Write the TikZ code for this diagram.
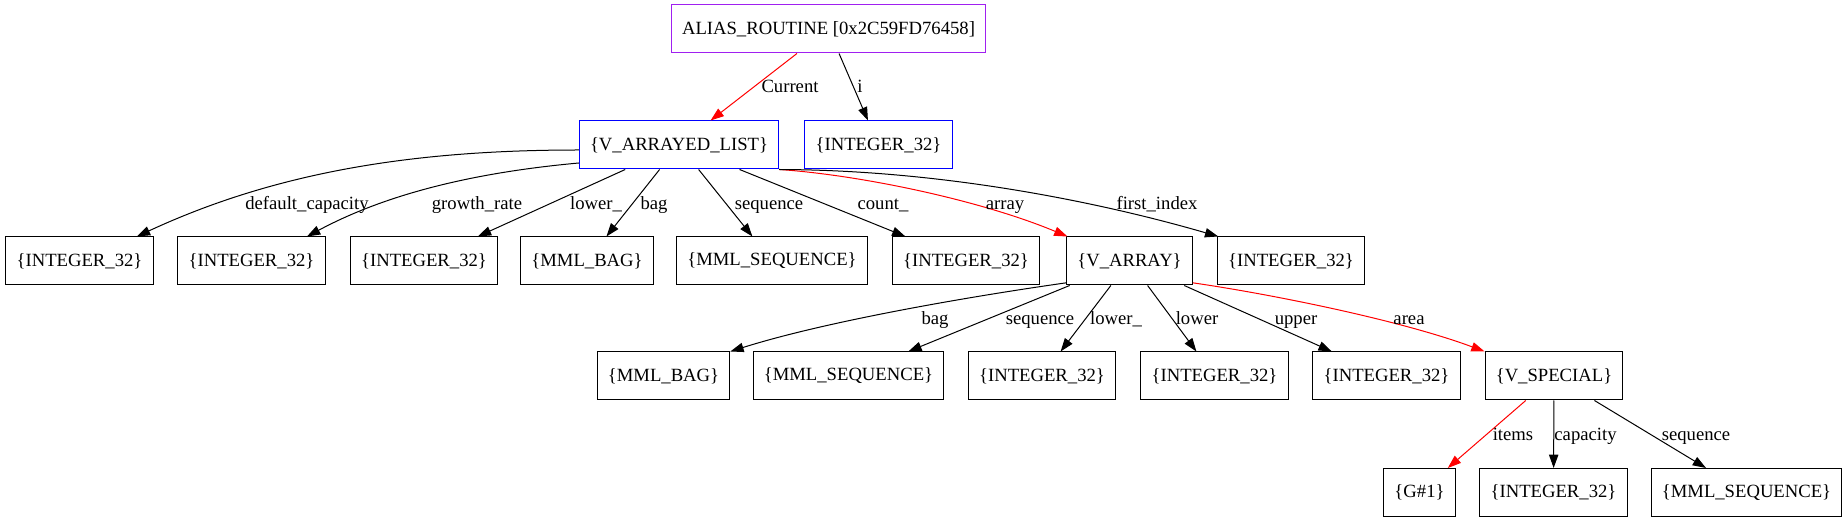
\documentclass[tikz,border=0pt]{standalone}
\usepackage{fontspec}
\setmainfont{Liberation Serif}
\usetikzlibrary{arrows.meta}
\definecolor{gvpurple}{HTML}{A020F0}

\begin{document}
\begin{tikzpicture}[
  x=0.75pt, y=-0.75pt,
  font=\fontsize{14}{16}\selectfont,
  >={Triangle[length=10pt,width=7pt]},
  box/.style={draw, line width=0.75pt, minimum height=36pt, inner xsep=8pt, inner ysep=2pt},
  rootbox/.style={box, draw=gvpurple},
  hotbox/.style={box, draw=blue},
  lbl/.style={inner sep=0pt, text=black, text height=10pt, text depth=3pt},
  edge/.style={->, line width=0.75pt, color=black},
  hot_edge/.style={->, line width=0.75pt, color=red}
]
  \useasboundingbox (0,0) rectangle (1848,523);

  % Root object and its two fields
  \node[rootbox] (root) at (828.5,29) {ALIAS\_ROUTINE [0x2C59FD76458]};
  \node[hotbox] (alist) at (679,145) {\{V\_ARRAYED\_LIST\}};
  \node[hotbox] (ai) at (878.5,145) {\{INTEGER\_32\}};

  % Fields of V_ARRAYED_LIST
  \node[box] (dcap) at (79.5,261) {\{INTEGER\_32\}};
  \node[box] (grate) at (251.5,261) {\{INTEGER\_32\}};
  \node[box] (lowa) at (424,261) {\{INTEGER\_32\}};
  \node[box] (baga) at (587,261) {\{MML\_BAG\}};
  \node[box] (seqa) at (772,261) {\{MML\_SEQUENCE\}};
  \node[box] (cnt) at (966,261) {\{INTEGER\_32\}};
  \node[box] (varr) at (1129.5,261) {\{V\_ARRAY\}};
  \node[box] (fidx) at (1291,261) {\{INTEGER\_32\}};

  % Fields of V_ARRAY
  \node[box] (bagb) at (663.5,376) {\{MML\_BAG\}};
  \node[box] (seqb) at (848.5,376) {\{MML\_SEQUENCE\}};
  \node[box] (lowb) at (1042,376) {\{INTEGER\_32\}};
  \node[box] (lowc) at (1214.5,376) {\{INTEGER\_32\}};
  \node[box] (upp) at (1386.5,376) {\{INTEGER\_32\}};
  \node[box] (vspec) at (1554,376) {\{V\_SPECIAL\}};

  % Fields of V_SPECIAL
  \node[box] (items) at (1419.5,492.5) {\{G\#1\}};
  \node[box] (cap) at (1553.5,492.5) {\{INTEGER\_32\}};
  \node[box] (seqc) at (1746.5,492.5) {\{MML\_SEQUENCE\}};

  % Root edges
  \draw[hot_edge] (root) -- (alist) node[lbl] at (790,88) {Current};
  \draw[edge] (root) -- (ai) node[lbl] at (860,88) {i};

  % V_ARRAYED_LIST edges
  \draw[edge] ([yshift=-3.75pt]alist.west) .. controls (420,150) and (280,170) .. ([xshift=43pt]dcap.north)
    node[lbl] at (307,204.5) {default\_capacity};
  \draw[edge] ([yshift=-13.5pt]alist.west) .. controls (480,172) and (390,192) .. ([xshift=41.6pt]grate.north)
    node[lbl] at (477,204.5) {growth\_rate};
  \draw[edge] (alist) -- (lowa) node[lbl] at (596,204.5) {lower\_};
  \draw[edge] (alist) -- (baga) node[lbl] at (654,204.5) {bag};
  \draw[edge] (alist) -- (seqa) node[lbl] at (769,204.5) {sequence};
  \draw[edge] (alist) -- (cnt) node[lbl] at (883,204.5) {count\_};
  \draw[hot_edge] (alist.south east) .. controls (860,175) and (980,200) .. ([xshift=1pt]varr.north west)
    node[lbl] at (1005,204.5) {array};
  \draw[edge] (alist.south east) .. controls (950,170) and (1110,205) .. ([xshift=1pt]fidx.north west)
    node[lbl] at (1157,204.5) {first\_index};

  % V_ARRAY edges
  \draw[edge] ([yshift=2pt]varr.south west) .. controls (980,295) and (830,320) .. (bagb.north east)
    node[lbl] at (935,320) {bag};
  \draw[edge] (varr) -- (seqb) node[lbl] at (1040,320) {sequence};
  \draw[edge] (varr) -- (lowb) node[lbl] at (1116,320) {lower\_};
  \draw[edge] (varr) -- (lowc) node[lbl] at (1197,320) {lower};
  \draw[edge] (varr) -- (upp) node[lbl] at (1296,320) {upper};
  \draw[hot_edge] ([yshift=2pt]varr.south east) .. controls (1270,294) and (1400,320) .. (vspec.north west)
    node[lbl] at (1409,320) {area};

  % V_SPECIAL edges
  \draw[hot_edge] (vspec) -- (items) node[lbl] at (1513,435.5) {items};
  \draw[edge] (vspec) -- (cap) node[lbl] at (1585.5,435.5) {capacity};
  \draw[edge] (vspec) -- (seqc) node[lbl] at (1696,435.5) {sequence};
\end{tikzpicture}
\end{document}
